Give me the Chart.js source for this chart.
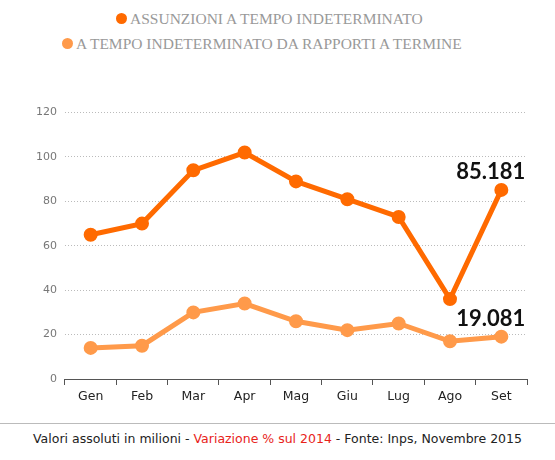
<!DOCTYPE html>
<html>
<head>
<meta charset="utf-8">
<script src="https://cdn.jsdelivr.net/npm/chart.js@4"></script>
<style>
  body { margin: 0; width: 555px; height: 460px; background: #fff; position: relative; overflow: hidden; }
  .legend { position: absolute; top: 8px; left: 0; width: 555px; font-family: "Liberation Serif", serif; font-size: 15.5px; color: #999; }
  .legend div { position: absolute; white-space: nowrap; }
  .dot { display: inline-block; width: 11px; height: 11px; border-radius: 50%; margin-right: 3px; vertical-align: 0px; }
  #wrap { position: absolute; left: 0; top: 98px; width: 555px; height: 310px; }
  .rule { position: absolute; left: 0; top: 423px; width: 555px; border-top: 1px solid #bbb; }
  .caption { position: absolute; top: 431px; left: 0; width: 555px; text-align: center; font-family: "DejaVu Sans", sans-serif; font-size: 12.5px; color: #222; }
  .caption .red { color: #e8231a; }
</style>
</head>
<body>
<div class="legend">
  <div style="left:116px;top:2px"><span class="dot" style="background:#ff6a00"></span>ASSUNZIONI A TEMPO INDETERMINATO</div>
  <div style="left:62px;top:27px"><span class="dot" style="background:#ff9a4a"></span>A TEMPO INDETERMINATO DA RAPPORTI A TERMINE</div>
</div>
<div id="wrap"><canvas id="c"></canvas></div>
<div class="rule"></div>
<div class="caption">Valori assoluti in milioni - <span class="red">Variazione % sul 2014</span> - Fonte: Inps, Novembre 2015</div>
<script>
// dati
const mesi = ['Gen', 'Feb', 'Mar', 'Apr', 'Mag', 'Giu', 'Lug', 'Ago', 'Set'];
const assunzioni = [65, 70, 94, 102, 89, 81, 73, 36, 85.181];
const daTermine = [14, 15, 30, 34, 26, 22, 25, 17, 19.081];
const etichette = ['85.181', '19.081'];

const coloreScuro = '#ff6a00';
const coloreChiaro = '#ff9a4a';

// etichette sull'ultimo punto
const ultimoValore = {
    id: 'ultimoValore',
    afterDatasetsDraw(chart) {
        const ctx = chart.ctx;
        ctx.save();
        ctx.font = 'bold 22px Lato, sans-serif';
        ctx.fillStyle = '#111';
        ctx.textAlign = 'right';
        ctx.textBaseline = 'bottom';
        chart.data.datasets.forEach((ds, i) => {
            const meta = chart.getDatasetMeta(i);
            const p = meta.data[meta.data.length - 1];
            ctx.fillText(etichette[i], p.x + 24, p.y - 7);
        });
        ctx.restore();
    }
};

new Chart(document.getElementById('c'), {
    type: 'line',
    data: {
        labels: mesi,
        datasets: [
            { data: assunzioni, borderColor: coloreScuro, backgroundColor: coloreScuro, borderWidth: 5, pointRadius: 4.5, tension: 0 },
            { data: daTermine, borderColor: coloreChiaro, backgroundColor: coloreChiaro, borderWidth: 5, pointRadius: 4.5, tension: 0 }
        ]
    },
    options: {
        responsive: true,
        maintainAspectRatio: false,
        animation: false,
        layout: { padding: { left: 28, right: 28, top: 10, bottom: 0 } },
        plugins: { legend: { display: false }, tooltip: { enabled: false } },
        scales: {
            x: {
                offset: true,
                grid: { display: true, drawOnChartArea: false, offset: true, color: '#555', tickLength: 6 },
                border: { color: '#555' },
                ticks: { color: '#222', font: { family: 'DejaVu Sans', size: 12.5 }, padding: 4 }
            },
            y: {
                min: 0, max: 120,
                ticks: { stepSize: 20, color: '#777', font: { family: 'DejaVu Sans', size: 11 }, padding: 8 },
                grid: { color: '#bbb', tickLength: 0 },
                border: { display: false, dash: [1, 2] }
            }
        }
    },
    plugins: [ultimoValore]
});
</script>
</body>
</html>
